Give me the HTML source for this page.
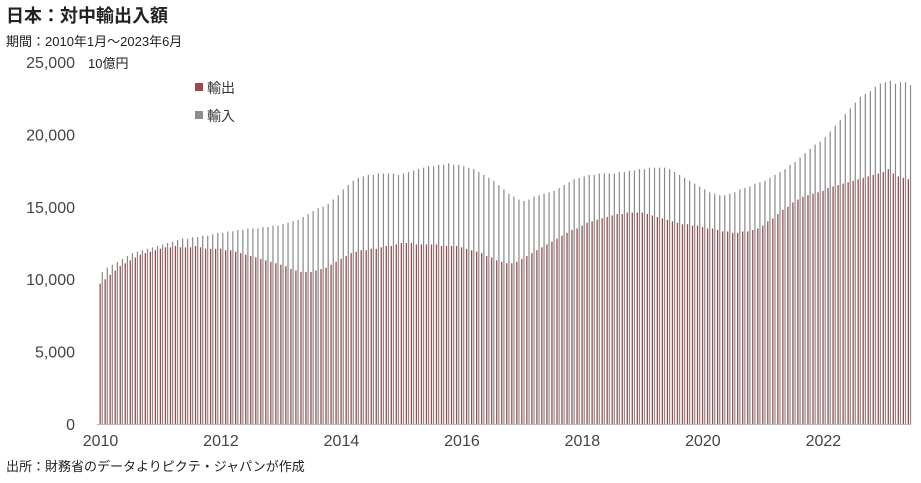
<!DOCTYPE html>
<html><head><meta charset="utf-8"><style>
body{margin:0;background:#fff;width:921px;height:478px;overflow:hidden;font-family:"Liberation Sans","Noto Sans CJK JP",sans-serif}
</style></head><body>
<svg id="c" width="921" height="478" xmlns="http://www.w3.org/2000/svg" font-family="Liberation Sans, Noto Sans CJK JP, sans-serif">
<text x="6" y="22" font-size="18" font-weight="bold" fill="#222">日本：対中輸出入額</text>
<text x="6" y="46" font-size="13" fill="#222">期間：2010年1月～2023年6月</text>
<text x="88" y="68" font-size="13" fill="#222">10億円</text>
<rect x="195" y="83" width="8" height="8" fill="#a0474c"/>
<text x="207" y="93" font-size="14" fill="#333">輸出</text>
<rect x="195" y="111" width="8" height="8" fill="#8c8c8c"/>
<text x="207" y="121" font-size="14" fill="#333">輸入</text>
<text x="6" y="471" font-size="13" fill="#222">出所：財務省のデータよりピクテ・ジャパンが作成</text>
<g id="yaxis"></g><g id="bars"></g><g id="xaxis"></g>
</svg>
<script>
const exportsData=[
9700,10000,10300,10600,10900,11100,11300,11500,11700,11800,11900,12000,
12100,12200,12200,12300,12200,12200,12200,12300,12200,12100,12100,12100,
12100,12000,12000,11900,11800,11700,11600,11500,11400,11300,11200,11100,
11000,10900,10700,10600,10500,10500,10500,10600,10700,10800,11000,11200,
11400,11600,11800,11900,12000,12000,12100,12100,12200,12300,12300,12400,
12500,12500,12500,12400,12400,12400,12400,12400,12300,12300,12300,12300,
12200,12100,12000,11900,11800,11600,11500,11300,11200,11100,11100,11200,
11400,11600,11800,12000,12200,12400,12600,12800,13000,13200,13400,13500,
13700,13900,14000,14100,14200,14300,14400,14500,14500,14600,14600,14600,
14600,14500,14400,14300,14200,14100,14000,13900,13800,13800,13700,13700,
13600,13500,13500,13400,13300,13300,13200,13200,13300,13300,13400,13500,
13700,14000,14200,14500,14800,15000,15300,15500,15700,15800,15900,16000,
16100,16300,16400,16500,16600,16700,16800,16900,17000,17100,17200,17300,
17400,17600,17300,17100,17000,16900];
const importsData=[
10500,10800,11000,11200,11400,11600,11800,11900,12000,12100,12200,12300,
12400,12500,12600,12700,12800,12800,12900,12900,13000,13000,13100,13200,
13200,13300,13300,13400,13400,13500,13500,13500,13600,13600,13700,13700,
13800,13900,14000,14100,14300,14500,14700,14900,15000,15200,15500,15800,
16200,16500,16800,17000,17100,17200,17200,17300,17300,17300,17300,17200,
17300,17400,17500,17600,17700,17800,17800,17900,17900,18000,17900,17900,
17800,17700,17600,17400,17200,17000,16800,16500,16200,15900,15700,15500,
15400,15500,15700,15800,15900,16000,16100,16300,16500,16700,16900,17000,
17100,17200,17200,17300,17300,17300,17300,17400,17400,17500,17500,17600,
17600,17700,17700,17700,17700,17600,17400,17200,17000,16800,16600,16400,
16200,16000,15900,15800,15800,15900,16000,16200,16300,16400,16600,16700,
16800,17000,17200,17400,17600,17900,18100,18400,18700,19000,19300,19500,
19800,20200,20600,21000,21400,21800,22200,22600,22800,23000,23300,23500,
23600,23700,23500,23600,23600,23400];
const yTicks=[0,5000,10000,15000,20000,25000];
const xTickYears=[2010,2012,2014,2016,2018,2020,2022];
const startYear=2010;
const NS="http://www.w3.org/2000/svg";
const y0=424,yTop=62,yMax=25000,x0=99.5,mw=5.02;
function yScale(v){return y0-(v/yMax)*(y0-yTop);}
function xScale(i){return x0+i*mw;}
const yg=document.getElementById('yaxis');
yTicks.forEach(t=>{
 const tx=document.createElementNS(NS,'text');
 
 
 tx.setAttribute('x',75);tx.setAttribute('y',yScale(t)+6);
 tx.setAttribute('text-anchor','end');tx.setAttribute('font-size','16');tx.setAttribute('fill','#444');
 tx.textContent=t.toLocaleString('en-US');yg.appendChild(tx);
});
const bg=document.getElementById('bars');
exportsData.forEach((v,i)=>{
 const r=document.createElementNS(NS,'rect');
 
 
 r.setAttribute('x',xScale(i));r.setAttribute('y',yScale(v));
 r.setAttribute('width',1.3);r.setAttribute('height',y0-yScale(v));r.setAttribute('fill','#9c4a50');
 bg.appendChild(r);
});
importsData.forEach((v,i)=>{
 const r=document.createElementNS(NS,'rect');
 
 
 r.setAttribute('x',xScale(i)+2.2);r.setAttribute('y',yScale(v));
 r.setAttribute('width',1.2);r.setAttribute('height',y0-yScale(v));r.setAttribute('fill','#8a8a8a');
 bg.appendChild(r);
});
const xg=document.getElementById('xaxis');
const ax=document.createElementNS(NS,'line');


ax.setAttribute('x1',97);ax.setAttribute('x2',911);ax.setAttribute('y1',y0+0.5);ax.setAttribute('y2',y0+0.5);
ax.setAttribute('stroke','#bbb');xg.appendChild(ax);
xTickYears.forEach(yr=>{
 const tx=document.createElementNS(NS,'text');
 
 
 tx.setAttribute('x',xScale((yr-startYear)*12)+1);tx.setAttribute('y',446);
 tx.setAttribute('text-anchor','middle');tx.setAttribute('font-size','16');tx.setAttribute('fill','#444');
 tx.textContent=yr;xg.appendChild(tx);
});
</script>
</body></html>
